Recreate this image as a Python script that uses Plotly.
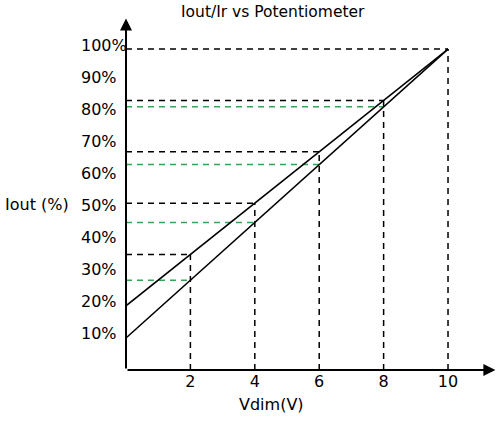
import plotly.graph_objects as go

# ---- data ----
vdim = [0, 2, 4, 6, 8, 10]
iout_upper = [20, 36, 52, 68, 84, 100]
iout_lower = [10, 28, 46, 64, 82, 100]
x_tick_vals = [2, 4, 6, 8, 10]
x_tick_text = ["2", "4", "6", "8", "10"]
y_tick_vals = [10, 20, 30, 40, 50, 60, 70, 80, 90, 100]
y_tick_text = ["10%", "20%", "30%", "40%", "50%", "60%", "70%", "80%", "90%", "100%"]

FONT = "DejaVu Sans"
GREEN = "#34a556"
DASH = "6px,5px"

fig = go.Figure()

# guide dashed lines derived from data points (skip x=0)
for xv, yu, yl in zip(vdim[1:], iout_upper[1:], iout_lower[1:]):
    fig.add_trace(go.Scatter(x=[xv, xv], y=[0, yu], mode="lines",
                             line=dict(color="black", width=1.5, dash=DASH),
                             hoverinfo="skip", showlegend=False))
    fig.add_trace(go.Scatter(x=[0, xv], y=[yu, yu], mode="lines",
                             line=dict(color="black", width=1.5, dash=DASH),
                             hoverinfo="skip", showlegend=False))
    if yl != yu:
        fig.add_trace(go.Scatter(x=[0, xv], y=[yl, yl], mode="lines",
                                 line=dict(color=GREEN, width=1.5, dash=DASH),
                                 hoverinfo="skip", showlegend=False))

# main lines
fig.add_trace(go.Scatter(x=vdim, y=iout_upper, mode="lines",
                         line=dict(color="black", width=1.5), showlegend=False))
fig.add_trace(go.Scatter(x=vdim, y=iout_lower, mode="lines",
                         line=dict(color="black", width=1.5), showlegend=False))

X_MAX = 11.49
Y_MAX = 110
PW = 370.0   # plot width in px
PH = 353.0   # plot height in px

# axes with arrows
fig.add_annotation(x=11.47, y=0, ax=0, ay=0, xref="x", yref="y", axref="x", ayref="y",
                   text="", showarrow=True, arrowhead=2, arrowsize=1.2, arrowwidth=2,
                   arrowcolor="black")
fig.add_annotation(x=0, y=109.5, ax=0, ay=0, xref="x", yref="y", axref="x", ayref="y",
                   text="", showarrow=True, arrowhead=2, arrowsize=1.2, arrowwidth=2,
                   arrowcolor="black")

# y tick labels (left aligned)
for v, t in zip(y_tick_vals, y_tick_text):
    fig.add_annotation(x=-47 / PW, y=v, xref="paper", yref="y", text=t, showarrow=False,
                       xanchor="left", yanchor="middle", yshift=4,
                       font=dict(family=FONT, size=16, color="black"))

# titles
fig.add_annotation(x=(273 - 126) / PW, y=1 + (17 - 12) / PH, xref="paper", yref="paper",
                   text="Iout/Ir vs Potentiometer", showarrow=False,
                   xanchor="center", yanchor="middle",
                   font=dict(family=FONT, size=15.5, color="black"))
fig.add_annotation(x=(3 - 126) / PW, y=50, xref="paper", yref="y",
                   text="Iout (%)", showarrow=False, xanchor="left", yanchor="middle", yshift=5,
                   font=dict(family=FONT, size=16, color="black"))
fig.add_annotation(x=(271 - 126) / PW, y=-(404 - 370) / PH, xref="paper", yref="paper",
                   text="Vdim(V)", showarrow=False, xanchor="center", yanchor="middle",
                   font=dict(family=FONT, size=16, color="black"))

fig.update_layout(
    width=496, height=423,
    margin=dict(l=126, r=0, t=17, b=53),
    plot_bgcolor="white", paper_bgcolor="white",
    font=dict(family=FONT, size=16, color="black"),
    xaxis=dict(range=[0, X_MAX], showgrid=False, zeroline=False, showline=False,
               tickvals=x_tick_vals, ticktext=x_tick_text, ticks="",
               tickfont=dict(family=FONT, size=16), fixedrange=True),
    yaxis=dict(range=[0, Y_MAX], showgrid=False, zeroline=False, showline=False,
               showticklabels=False, ticks="", fixedrange=True),
)

# remove the page's default 8px body margin so the figure fills the window exactly
fig.write_html("out.html",
               config={"displayModeBar": False},
               post_script="document.body.style.margin='0';document.body.style.overflow='hidden';")
